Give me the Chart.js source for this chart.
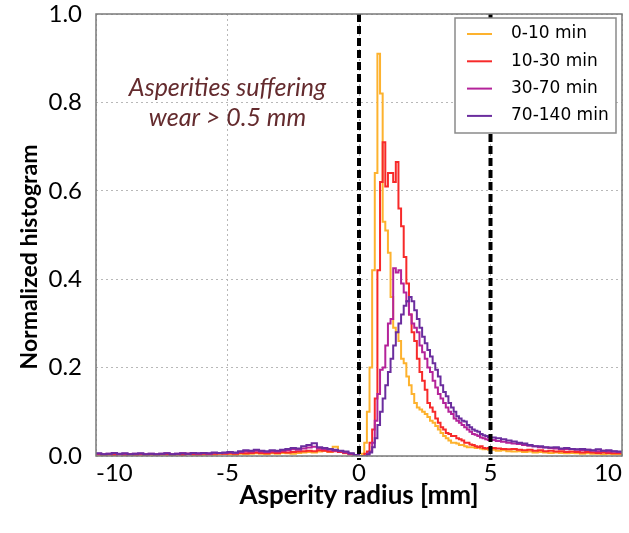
<!DOCTYPE html>
<html><head><meta charset="utf-8">
<script src="https://cdn.jsdelivr.net/npm/chart.js@4.4.0/dist/chart.umd.min.js"></script>
<style>html,body{margin:0;padding:0;background:#fff}canvas{display:block}</style>
</head><body>
<canvas id="c" width="629" height="533"></canvas>
<script>
const seriesLabels = ['0-10 min', '10-30 min', '30-70 min', '70-140 min'];
const seriesColors = ['#FDB22E', '#F72A2A', '#B4239A', '#6B2D9E'];
const xTicks = [-10, -5, 0, 5, 10];
const yTicks = [0, 0.2, 0.4, 0.6, 0.8, 1.0];
const thresholds = [0, 5];
const annotationLines = ['Asperities suffering', 'wear > 0.5 mm'];
const xTitle = 'Asperity radius [mm]';
const yTitle = 'Normalized histogram';

// bin layout: left tail -10..0 (0.2 wide), core 0..5 (0.1 wide), right tail 5..10 (0.2 wide)
const leftTail = {start: -10, width: 0.2};
const core = {start: 0, width: 0.1};
const rightTail = {start: 5, width: 0.2};
const xEnd = 10;

const orangeLeft = [0.003,0.002,0.003,0.002,0.004,0.002,0.003,0.002,0.003,0.002, 0.003,0.002,0.003,0.003,0.002,0.003,0.002,0.004,0.003,0.002, 0.003,0.004,0.003,0.004,0.005,0.004,0.003,0.005,0.004,0.005, 0.006,0.005,0.004,0.006,0.005,0.007,0.006,0.005,0.007,0.008, 0.009,0.008,0.010,0.012,0.009,0.021,0.010,0.006,0.004,0.001];
const orangeCore = [0.000,0.005,0.030,0.100,0.200,0.420,0.640,0.910,0.820,0.530, 0.510,0.460,0.360,0.290,0.280,0.260,0.220,0.210,0.180,0.160, 0.140,0.120,0.110,0.105,0.100,0.095,0.088,0.080,0.075,0.068, 0.060,0.052,0.045,0.040,0.035,0.030,0.030,0.028,0.025,0.025, 0.022,0.020,0.020,0.020,0.018,0.020,0.017,0.015,0.016,0.014];
const orangeRight = [0.014,0.012,0.013,0.011,0.010,0.011,0.009,0.010,0.008,0.009,0.008,0.007,0.008,0.007,0.006,0.007,0.006,0.005,0.006,0.005,0.005,0.004,0.005,0.004,0.004];

const redLeft = [0.004,0.003,0.004,0.003,0.004,0.003,0.004,0.003,0.004,0.003, 0.004,0.003,0.004,0.004,0.003,0.004,0.003,0.005,0.004,0.004, 0.005,0.004,0.005,0.006,0.005,0.006,0.005,0.007,0.006,0.007, 0.008,0.007,0.006,0.008,0.007,0.009,0.008,0.009,0.010,0.011, 0.012,0.011,0.013,0.012,0.010,0.011,0.009,0.007,0.004,0.001];
const redCore = [0.000,0.000,0.005,0.010,0.030,0.060,0.130,0.420,0.620,0.710, 0.610,0.640,0.640,0.620,0.665,0.560,0.520,0.450,0.390,0.320, 0.280,0.260,0.220,0.190,0.170,0.150,0.120,0.110,0.100,0.085, 0.075,0.065,0.060,0.052,0.050,0.045,0.045,0.040,0.038,0.035, 0.030,0.030,0.026,0.025,0.022,0.020,0.022,0.018,0.017,0.018];
const redRight = [0.018,0.017,0.016,0.015,0.016,0.014,0.013,0.014,0.012,0.013,0.011,0.012,0.010,0.011,0.009,0.010,0.009,0.008,0.009,0.008,0.007,0.008,0.007,0.006,0.006];

const magentaLeft = [0.005,0.004,0.005,0.006,0.004,0.005,0.004,0.005,0.005,0.004, 0.005,0.004,0.005,0.006,0.004,0.005,0.006,0.005,0.006,0.005, 0.006,0.005,0.007,0.006,0.007,0.008,0.007,0.009,0.011,0.010, 0.012,0.010,0.009,0.011,0.010,0.012,0.013,0.015,0.014,0.017, 0.019,0.021,0.017,0.016,0.014,0.012,0.011,0.008,0.005,0.002];
const magentaCore = [0.000,0.000,0.000,0.005,0.010,0.030,0.080,0.140,0.195,0.200, 0.250,0.300,0.310,0.425,0.415,0.420,0.390,0.370,0.350,0.320, 0.300,0.290,0.280,0.250,0.235,0.220,0.200,0.190,0.170,0.155, 0.140,0.130,0.120,0.110,0.100,0.095,0.085,0.080,0.075,0.070, 0.065,0.060,0.055,0.050,0.048,0.045,0.042,0.040,0.038,0.036];
const magentaRight = [0.036,0.034,0.032,0.030,0.028,0.027,0.025,0.023,0.022,0.020,0.019,0.018,0.017,0.016,0.015,0.016,0.014,0.013,0.014,0.012,0.011,0.012,0.010,0.010,0.009];

const purpleLeft = [0.006,0.004,0.005,0.007,0.005,0.006,0.004,0.005,0.006,0.004, 0.005,0.004,0.005,0.006,0.004,0.005,0.006,0.005,0.007,0.006, 0.007,0.006,0.008,0.007,0.008,0.009,0.008,0.011,0.013,0.012, 0.014,0.012,0.011,0.013,0.012,0.014,0.016,0.018,0.017,0.022, 0.025,0.029,0.020,0.018,0.016,0.014,0.012,0.010,0.006,0.002];
const purpleCore = [0.000,0.000,0.000,0.003,0.008,0.020,0.040,0.070,0.100,0.130, 0.160,0.190,0.220,0.250,0.280,0.300,0.320,0.340,0.350,0.360, 0.350,0.330,0.310,0.290,0.270,0.255,0.240,0.225,0.210,0.195, 0.180,0.160,0.145,0.135,0.120,0.110,0.100,0.090,0.085,0.080, 0.078,0.070,0.065,0.060,0.057,0.055,0.050,0.047,0.045,0.043];
const purpleRight = [0.042,0.040,0.038,0.035,0.033,0.030,0.028,0.025,0.022,0.022,0.020,0.019,0.020,0.017,0.018,0.016,0.015,0.016,0.014,0.013,0.015,0.012,0.013,0.011,0.010];

const seriesParts = [
  [orangeLeft, orangeCore, orangeRight],
  [redLeft, redCore, redRight],
  [magentaLeft, magentaCore, magentaRight],
  [purpleLeft, purpleCore, purpleRight]
];

function buildPoints(parts) {
  const pts = [];
  const segs = [leftTail, core, rightTail];
  parts.forEach((vals, k) => {
    vals.forEach((v, i) => {
      pts.push({x: Math.round((segs[k].start + i * segs[k].width) * 100) / 100, y: v});
    });
  });
  const last = parts[2][parts[2].length - 1];
  pts.push({x: xEnd, y: last});
  return pts;
}

const datasets = seriesLabels.map((lab, i) => ({
  label: lab,
  data: buildPoints(seriesParts[i]),
  borderColor: seriesColors[i],
  backgroundColor: seriesColors[i],
  borderWidth: 2,
  pointRadius: 0,
  fill: false,
  stepped: 'before',
  order: seriesLabels.length - i
}));

const TICK_FONT = {family: 'Lato', size: 24};
const X_TITLE_FONT = {family: 'Lato', size: 26, weight: 'bold'};

const decor = {
  id: 'decor',
  beforeDatasetsDraw(chart) {
    const {ctx, scales, chartArea: a} = chart;
    ctx.save();
    ctx.fillStyle = '#642B2E';
    ctx.font = 'italic 25px Lato';
    ctx.textAlign = 'center';
    ctx.textBaseline = 'middle';
    const ax = scales.x.getPixelForValue(-5);
    ctx.fillText(annotationLines[0], ax, scales.y.getPixelForValue(0.833));
    ctx.fillText(annotationLines[1], ax, scales.y.getPixelForValue(0.765));
    ctx.restore();
    // y axis title
    ctx.save();
    ctx.translate(30, (a.top + a.bottom) / 2 + 22);
    ctx.rotate(-Math.PI / 2);
    ctx.fillStyle = '#000';
    ctx.font = 'bold 23px Lato';
    ctx.textAlign = 'center';
    ctx.textBaseline = 'middle';
    ctx.fillText(yTitle, 0, 0);
    ctx.restore();
  },
  afterDatasetsDraw(chart) {
    const {ctx, chartArea: a, scales} = chart;
    ctx.save();
    ctx.strokeStyle = '#000';
    ctx.lineWidth = 4;
    ctx.setLineDash([8, 4]);
    thresholds.forEach(t => {
      const px = scales.x.getPixelForValue(t);
      ctx.beginPath();
      ctx.moveTo(px, a.top);
      ctx.lineTo(px, a.bottom + 4);
      ctx.stroke();
    });
    ctx.setLineDash([]);
    ctx.strokeStyle = '#7a7a7a';
    ctx.lineWidth = 1.5;
    ctx.strokeRect(a.left, a.top, a.right - a.left, a.bottom - a.top);
    const bw = 161, bh = 115;
    const bx = a.right - 6 - bw, by = a.top + 4;
    ctx.fillStyle = '#fff';
    ctx.fillRect(bx, by, bw, bh);
    ctx.strokeStyle = '#8a8a8a';
    ctx.lineWidth = 1.5;
    ctx.strokeRect(bx, by, bw, bh);
    ctx.font = '17px "DejaVu Sans"';
    ctx.textAlign = 'left';
    ctx.textBaseline = 'middle';
    chart.data.datasets.forEach((ds, i) => {
      const ry = by + 16 + i * 27.3;
      ctx.strokeStyle = ds.borderColor;
      ctx.lineWidth = 2;
      ctx.beginPath();
      ctx.moveTo(bx + 12, ry);
      ctx.lineTo(bx + 37, ry);
      ctx.stroke();
      ctx.fillStyle = '#000';
      ctx.fillText(ds.label, bx + 56, ry);
    });
    ctx.restore();
  }
};

new Chart(document.getElementById('c'), {
  type: 'line',
  data: {datasets},
  options: {
    responsive: false,
    animation: false,
    layout: {padding: {top: 14, right: 7, left: 0, bottom: 0}},
    plugins: {legend: {display: false}, tooltip: {enabled: false}},
    scales: {
      x: {
        type: 'linear', min: -10, max: 10,
        afterBuildTicks: s => { s.ticks = xTicks.map(v => ({value: v})); },
        afterFit: s => { s.height = 77; s.paddingLeft = 0; s.paddingRight = 0; },
        ticks: {font: TICK_FONT, color: '#000', padding: 3, align: 'inner', maxRotation: 0, callback: v => String(v)},
        grid: {color: '#b8b8b8', lineWidth: 1, drawTicks: false},
        border: {display: false, dash: [2, 3]},
        title: {display: true, text: xTitle, font: X_TITLE_FONT, color: '#000', padding: {top: 0, bottom: 22}}
      },
      y: {
        type: 'linear', min: 0, max: 1,
        afterBuildTicks: s => { s.ticks = yTicks.map(v => ({value: v})); },
        afterFit: s => { s.width = 96; s.paddingTop = 0; s.paddingBottom = 0; },
        ticks: {font: TICK_FONT, color: '#000', padding: 14, callback: v => v.toFixed(1)},
        grid: {color: '#b8b8b8', lineWidth: 1, drawTicks: false},
        border: {display: false, dash: [2, 3]},
        title: {display: false}
      }
    }
  },
  plugins: [decor]
});
</script>
</body></html>
